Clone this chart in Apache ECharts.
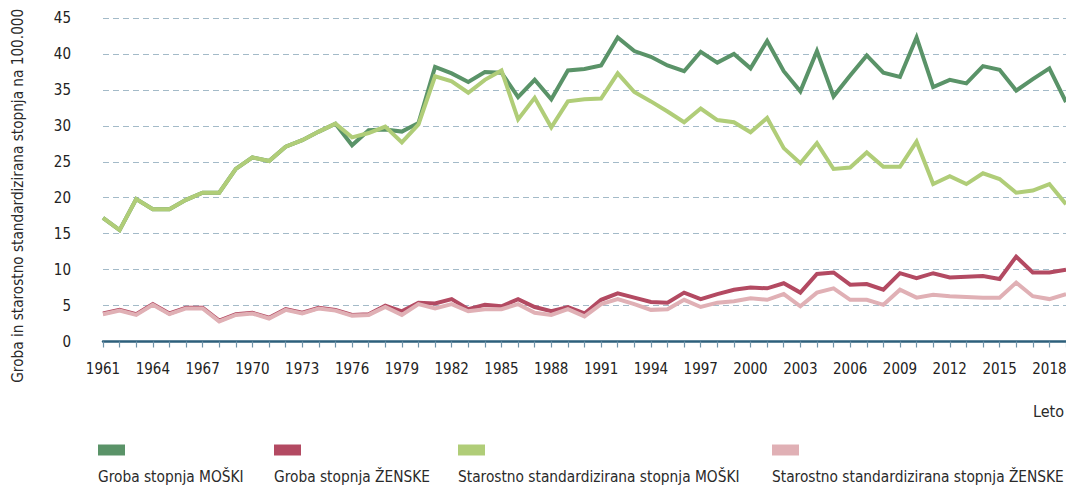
<!DOCTYPE html>
<html>
<head>
<meta charset="utf-8">
<script src="https://cdn.jsdelivr.net/npm/echarts@6/dist/echarts.min.js"></script>
<style>
html,body{margin:0;padding:0;background:#fff;}
#c{width:1066px;height:486px;}
</style>
</head>
<body>
<div id="c"></div>
<script>
const years = [];
for (let y = 1961; y <= 2019; y++) years.push(String(y));

const seriesNames = [
  'Groba stopnja MOŠKI',
  'Groba stopnja ŽENSKE',
  'Starostno standardizirana stopnja MOŠKI',
  'Starostno standardizirana stopnja ŽENSKE'
];

const grobaMoski = [
  17.2,15.5,19.8,18.4,18.4,19.7,20.7,20.7,24.0,25.6,
  25.1,27.1,28.0,29.2,30.3,27.3,29.4,29.5,29.2,30.4,
  38.2,37.3,36.1,37.5,37.4,34.0,36.4,33.7,37.7,37.9,
  38.4,42.3,40.4,39.6,38.4,37.6,40.3,38.8,40.0,38.0,
  41.8,37.6,34.8,40.4,34.1,37.0,39.8,37.4,36.8,42.3,
  35.4,36.4,35.9,38.3,37.8,34.9,36.5,38.0,33.3
];
const grobaZenske = [
  3.9,4.4,3.8,5.2,3.9,4.7,4.7,2.9,3.8,4.0,
  3.3,4.5,4.0,4.7,4.4,3.7,3.8,5.0,4.2,5.4,
  5.3,5.9,4.5,5.1,4.9,5.9,4.8,4.2,4.8,3.9,
  5.8,6.7,6.1,5.5,5.4,6.8,5.9,6.6,7.2,7.5,
  7.4,8.1,6.8,9.4,9.6,7.9,8.0,7.2,9.5,8.8,
  9.5,8.9,9.0,9.1,8.7,11.8,9.6,9.6,10.0
];
const ssMoski = [
  17.2,15.5,19.8,18.4,18.4,19.7,20.7,20.7,24.0,25.6,
  25.1,27.1,28.0,29.2,30.3,28.4,29.0,29.9,27.7,30.2,
  36.9,36.2,34.6,36.4,37.7,30.9,33.9,29.8,33.4,33.7,
  33.8,37.3,34.7,33.4,32.0,30.5,32.4,30.8,30.5,29.1,
  31.1,26.9,24.8,27.6,24.0,24.2,26.3,24.3,24.3,27.8,
  21.9,23.0,21.9,23.4,22.6,20.7,21.0,21.9,19.1
];
const ssZenske = [
  3.8,4.3,3.7,5.1,3.8,4.6,4.6,2.8,3.7,3.9,
  3.2,4.4,3.9,4.6,4.3,3.6,3.7,4.8,3.7,5.2,
  4.6,5.2,4.2,4.5,4.5,5.2,4.0,3.7,4.5,3.5,
  5.2,5.9,5.2,4.4,4.5,5.8,4.8,5.4,5.6,6.0,
  5.8,6.6,4.9,6.8,7.4,5.8,5.8,5.1,7.2,6.1,
  6.5,6.3,6.2,6.1,6.1,8.2,6.3,5.9,6.6
];

const colors = ['#5a9368', '#b34a62', '#b0cd78', '#e0b0b5'];
const legendLeft = [98, 274, 458, 772];
const FONT = '"Liberation Sans Narrow","DejaVu Sans Condensed","Roboto",sans-serif';

const chart = echarts.init(document.getElementById('c'), null, {renderer: 'svg'});

const legends = seriesNames.map((n, i) => ({
  data: [n],
  left: legendLeft[i] - 5,
  top: 444,
  padding: 0,
  icon: 'rect',
  itemWidth: 0,
  itemHeight: 0,
  selectedMode: false,
  formatter: (name) => '{box|}\n{t|' + name + '}',
  textStyle: {
    rich: {
      box: {width: 27, height: 11, backgroundColor: colors[i], lineHeight: 14},
      t: {fontSize: 15.3, fontFamily: FONT, color: '#2a2a2a', lineHeight: 40, verticalAlign: 'middle'}
    }
  }
}));

function line(name, data, color, z) {
  return {
    name: name,
    type: 'line',
    data: data,
    symbol: 'none',
    z: z,
    lineStyle: {width: 4, color: color, join: 'miter'},
    itemStyle: {color: color},
    emphasis: {disabled: true}
  };
}

chart.setOption({
  animation: false,
  color: colors,
  textStyle: {fontFamily: FONT},
  grid: {left: 103, right: 0, top: 18, bottom: 144.5, containLabel: false, outerBoundsMode: 'none'},
  legend: legends,
  xAxis: {
    type: 'category',
    data: years,
    boundaryGap: false,
    axisLine: {lineStyle: {color: '#2d5f7b', width: 2.5}},
    axisTick: {interval: 0, length: 6, lineStyle: {color: '#6f93a8', width: 1.2}},
    axisLabel: {interval: 2, margin: 20, fontSize: 15, color: '#222', fontFamily: FONT, hideOverlap: false},
    splitLine: {show: false}
  },
  yAxis: {
    type: 'value',
    min: 0, max: 45, interval: 5,
    name: 'Groba in starostno standardizirana stopnja na 100.000',
    nameLocation: 'middle',
    nameGap: 78,
    nameTextStyle: {fontSize: 15.2, color: '#2a2a2a', fontFamily: FONT, padding: [0, 0, 0, -32]},
    axisLine: {show: false},
    axisTick: {show: false},
    axisLabel: {margin: 32, fontSize: 15, color: '#222', fontFamily: FONT},
    splitLine: {lineStyle: {type: [6, 4], color: '#a3bac8', width: 1}}
  },
  graphic: [{
    type: 'text',
    right: 2,
    top: 403,
    style: {text: 'Leto', fontSize: 16, fill: '#2a2a2a', fontFamily: FONT}
  }],
  series: [
    line(seriesNames[0], grobaMoski, colors[0], 2),
    line(seriesNames[2], ssMoski, colors[2], 3),
    line(seriesNames[1], grobaZenske, colors[1], 4),
    line(seriesNames[3], ssZenske, colors[3], 5)
  ]
});
</script>
</body>
</html>
